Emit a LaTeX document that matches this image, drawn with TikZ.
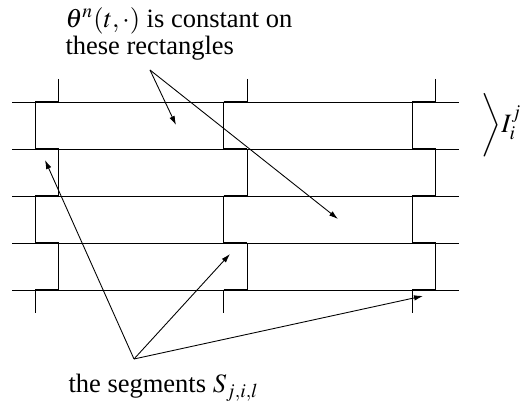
\documentclass[tikz,border=0pt]{standalone}
\usepackage{mathptmx}
\usepackage[no-math]{fontspec}
\setmainfont{Liberation Serif}
\usetikzlibrary{arrows.meta}

\begin{document}
\begin{tikzpicture}[x=0.4pt, y=-0.4pt,
    grid/.style={line width=0.3pt},
    wall/.style={line width=0.4pt},
    seg/.style={line width=1.1pt},
    arr/.style={-{Latex[length=3.6pt,width=2.2pt]}, line width=0.35pt},
    lbl/.style={inner sep=0pt, font=\fontsize{10.6}{10}\selectfont},
  ]
  \useasboundingbox (0,0) rectangle (520,405);

  % horizontal lines
  \foreach \y in {102,149,196,243,290}
    \draw[grid] (12,\y) -- (459,\y);

  % the three zigzag columns
  \foreach \xl in {35,223.5,412}{
    \pgfmathsetmacro{\xr}{\xl+23.5}
    \draw[wall] (\xr,79) -- (\xr,102) (\xl,290) -- (\xl,313);
    \draw[wall] (\xl,102) -- (\xl,149) (\xr,149) -- (\xr,196)
                (\xl,196) -- (\xl,243) (\xr,243) -- (\xr,290);
    \foreach \y in {102,149,196,243,290}
      \draw[seg] (\xl,\y) -- (\xr,\y);
  }

  % labels
  \node[lbl, anchor=north west, align=left] (rect) at (65,7)
       {$\theta^n(t,\cdot)$ is constant on\\ these rectangles};
  \node[lbl, anchor=base west] (segs) at (68,393) {the segments $S_{j,i,l}$};
  \node[lbl, anchor=west] (intv) at (481,125.5) {$\bigg\rangle I_i^j$};

  % arrows
  \coordinate (rsrc) at (150,70);
  \coordinate (ssrc) at (134,359);
  \foreach \p in {(176,125),(338,219)}
    \draw[arr] (rsrc) -- \p;
  \foreach \p in {(45,160),(230,254),(423,296)}
    \draw[arr] (ssrc) -- \p;
\end{tikzpicture}
\end{document}
